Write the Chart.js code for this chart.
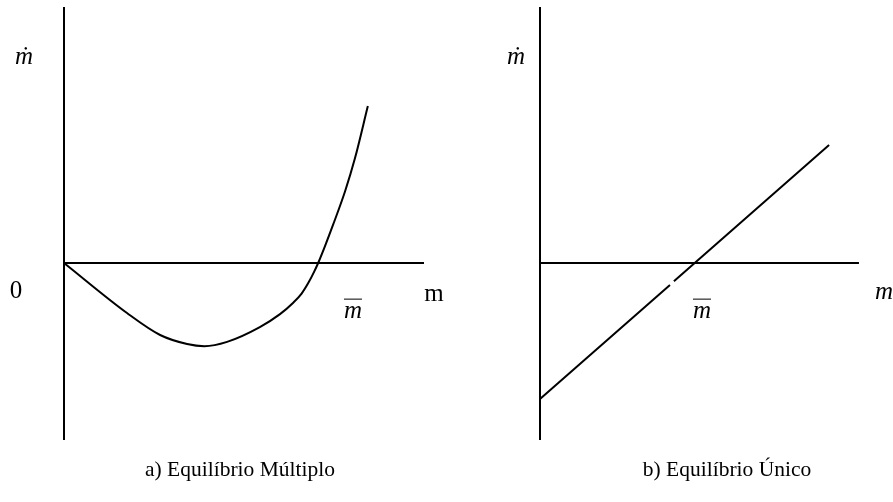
<!DOCTYPE html>
<html>
<head>
<meta charset="utf-8">
<script src="https://cdn.jsdelivr.net/npm/chart.js@4.4.0/dist/chart.umd.min.js"></script>
<style>
  body { margin: 0; background: #fff; width: 893px; height: 502px; position: relative; overflow: hidden;
         font-family: "Liberation Serif", "Times New Roman", serif; color: #000; }
  canvas { position: absolute; }
  .lbl { position: absolute; white-space: nowrap; line-height: 1; transform: translate(-50%, -50%); }
  .it { font-style: italic; }
  .bar { border-top: 1.5px solid #000; padding-top: 1px; line-height: 0.75; }
</style>
</head>
<body>
<canvas id="chartA" width="432" height="477" style="left:10px;top:2px"></canvas>
<canvas id="chartB" width="396" height="477" style="left:486px;top:2px"></canvas>

<div class="lbl it" style="left:24px;top:55px;font-size:25px">ṁ</div>
<div class="lbl" style="left:16px;top:289px;font-size:25px">0</div>
<div class="lbl" style="left:434px;top:292px;font-size:25px">m</div>
<div class="lbl it bar" style="left:353px;top:309px;font-size:25px">m</div>
<div class="lbl" style="left:240px;top:470px;font-size:21.5px">a) Equilíbrio Múltiplo</div>

<div class="lbl it" style="left:516px;top:55px;font-size:25px">ṁ</div>
<div class="lbl it bar" style="left:702px;top:309px;font-size:25px">m</div>
<div class="lbl it" style="left:884px;top:290px;font-size:25px">m</div>
<div class="lbl" style="left:727px;top:470px;font-size:21.5px">b) Equilíbrio Único</div>

<script>
// a) multiple equilibria: m vs m-dot, axis units
var curveM    = [0, 1.75, 2.67, 3.42, 3.9, 4.53, 5.44, 6.0, 6.36, 6.6, 6.8, 6.95, 7.06, 7.25, 7.47, 7.81, 8.08, 8.44];
var curveMdot = [0, -1.39, -2.0, -2.25, -2.31, -2.19, -1.78, -1.42, -1.11, -0.85, -0.53, -0.24, 0, 0.47, 1.05, 2.0, 2.9, 4.36];
var axisA = { mMax: 10, mdotMin: -4.92, mdotMax: 7.11 };

// b) single equilibrium (small break in the line just below the m axis)
var lineM    = [0, 3.61, 3.66, 3.72, 8.03];
var lineMdot = [-3.78, -0.61, null, -0.51, 3.28];
var axisB = { mMax: 8.86, mdotMin: -4.92, mdotMax: 7.11 };

function pts(xs, ys) {
  return xs.map(function(x, i) { return { x: x, y: ys[i] }; });
}

function axisSets(ax) {
  var base = { borderColor: '#000', borderWidth: 2, pointRadius: 0, fill: false, clip: false, tension: 0 };
  return [
    Object.assign({ data: pts([0, 0], [ax.mdotMin, ax.mdotMax]) }, base),
    Object.assign({ data: pts([0, ax.mMax], [0, 0]) }, base)
  ];
}

function makeChart(id, curve, ax, xMax, smooth) {
  var curveSet = {
    data: curve,
    borderColor: '#000',
    borderWidth: 2,
    pointRadius: 0,
    fill: false,
    clip: false,
    spanGaps: false,
    tension: 0
  };
  if (smooth) curveSet.cubicInterpolationMode = 'monotone';
  return new Chart(document.getElementById(id), {
    type: 'line',
    data: { datasets: axisSets(ax).concat([curveSet]) },
    options: {
      responsive: false,
      animation: false,
      events: [],
      layout: { padding: 0 },
      plugins: { legend: { display: false }, tooltip: { enabled: false } },
      scales: {
        x: { type: 'linear', min: -1.5, max: xMax, display: false },
        y: { type: 'linear', min: -6, max: 7.25, display: false }
      }
    }
  });
}

var chartA = makeChart('chartA', pts(curveM, curveMdot), axisA, 10.5, true);
var chartB = makeChart('chartB', pts(lineM, lineMdot), axisB, 9.5, false);
</script>
</body>
</html>
